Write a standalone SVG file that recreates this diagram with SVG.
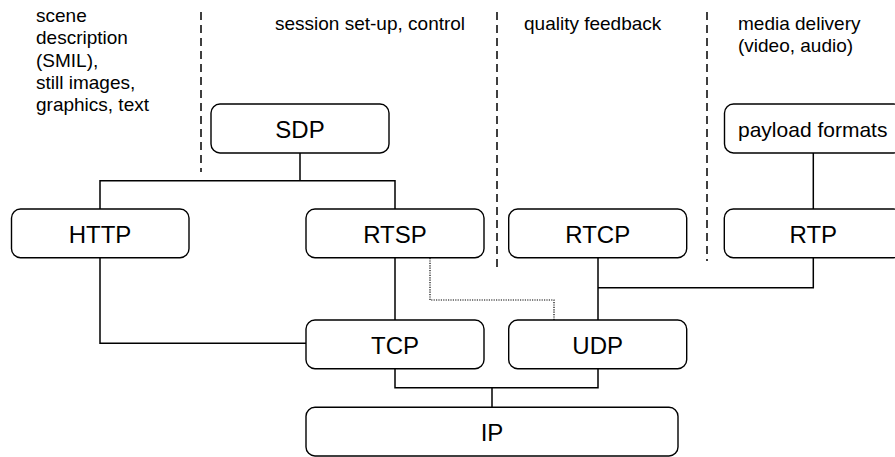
<svg xmlns="http://www.w3.org/2000/svg" width="895" height="457" viewBox="0 0 895 457">
<style>
.box{fill:#fff;stroke:#000;stroke-width:1.4}
.lbl{font-family:"Liberation Sans",Arial,sans-serif;font-size:24px;fill:#000;text-anchor:middle}
.hdr{font-family:"Liberation Sans",Arial,sans-serif;font-size:19px;fill:#000}
.con{fill:none;stroke:#000;stroke-width:1.5}
.dash{fill:none;stroke:#000;stroke-width:1.5;stroke-dasharray:8 5}
.dot{fill:none;stroke:#000;stroke-width:1.2;stroke-dasharray:1.2 1.2}
</style>
<rect width="895" height="457" fill="#fff"/>
<g id="headers">
<text class="hdr" x="36" y="22">scene</text>
<text class="hdr" x="36" y="44">description</text>
<text class="hdr" x="36" y="66.5">(SMIL),</text>
<text class="hdr" x="36" y="88.5">still images,</text>
<text class="hdr" x="36" y="110.5">graphics, text</text>
<text class="hdr" x="275" y="30">session set-up, control</text>
<text class="hdr" x="524" y="30">quality feedback</text>
<text class="hdr" x="738" y="30">media delivery</text>
<text class="hdr" x="738" y="52">(video, audio)</text>
</g>
<g id="separators">
<line class="dash" x1="201" y1="12" x2="201" y2="172"/>
<line class="dash" x1="497" y1="12" x2="497" y2="270"/>
<line class="dash" x1="707" y1="12" x2="707" y2="261"/>
</g>
<g id="connectors">
<polyline class="con" points="300,153 300,180.7"/>
<polyline class="con" points="100,209 100,180.7 395,180.7 395,209"/>
<polyline class="con" points="100,257.7 100,343.3 306,343.3"/>
<line class="con" x1="395" y1="257.7" x2="395" y2="320"/>
<line class="con" x1="813.3" y1="153" x2="813.3" y2="209"/>
<line class="con" x1="598" y1="257.7" x2="598" y2="320"/>
<polyline class="con" points="598,287.7 813.3,287.7 813.3,257.7"/>
<polyline class="con" points="395,368.7 395,387.7 598,387.7 598,368.7"/>
<line class="con" x1="492" y1="387.7" x2="492" y2="407.3"/>
<polyline class="dot" points="430,258 430,300 554,300 554,320"/>
</g>
<g id="SDP"><rect class="box" x="211" y="104" width="178" height="49" rx="9"/><text class="lbl" x="300" y="137.5">SDP</text></g>
<g id="payload"><rect class="box" x="724.5" y="104" width="178" height="49" rx="9"/><text class="lbl" x="738" y="137.3" style="text-anchor:start;font-size:21px">payload formats</text></g>
<g id="HTTP"><rect class="box" x="11.5" y="209" width="177.5" height="48.7" rx="9"/><text class="lbl" x="100" y="242.5">HTTP</text></g>
<g id="RTSP"><rect class="box" x="306" y="209" width="178" height="48.7" rx="9"/><text class="lbl" x="395" y="242.5">RTSP</text></g>
<g id="RTCP"><rect class="box" x="508.7" y="209" width="178" height="48.7" rx="9"/><text class="lbl" x="597.7" y="242.5">RTCP</text></g>
<g id="RTP"><rect class="box" x="724.3" y="209" width="178" height="48.7" rx="9"/><text class="lbl" x="813.3" y="242.5">RTP</text></g>
<g id="TCP"><rect class="box" x="306" y="320" width="178" height="48.7" rx="9"/><text class="lbl" x="395" y="353.5">TCP</text></g>
<g id="UDP"><rect class="box" x="508.7" y="320" width="178" height="48.7" rx="9"/><text class="lbl" x="597.7" y="353.5">UDP</text></g>
<g id="IP"><rect class="box" x="306" y="407.3" width="372" height="48.7" rx="9"/><text class="lbl" x="492" y="441">IP</text></g>
</svg>
